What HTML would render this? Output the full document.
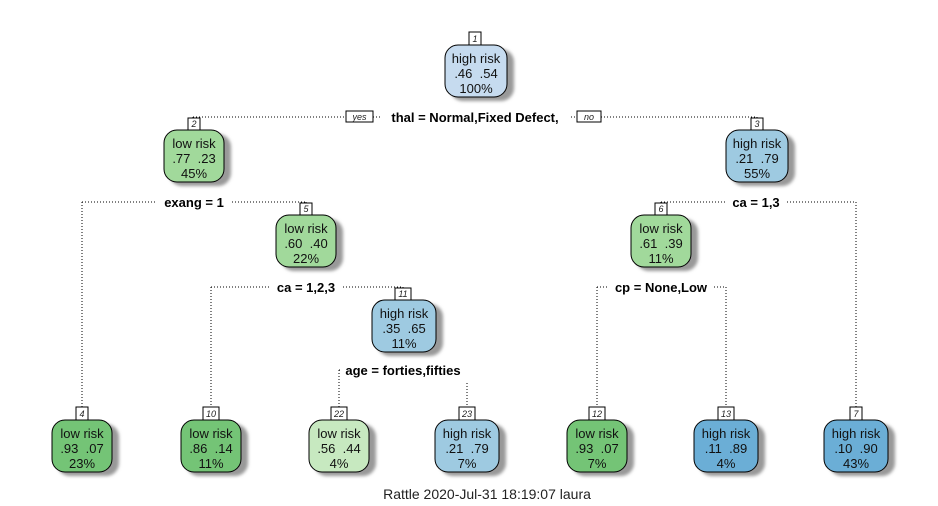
<!DOCTYPE html>
<html><head><meta charset="utf-8"><style>
html,body{margin:0;padding:0;background:#fff;}
svg{display:block;font-family:"Liberation Sans",Arial,sans-serif;}
.n{font-size:13px;fill:#111;text-anchor:middle;white-space:pre;}
.s{font-size:13px;font-weight:bold;fill:#000;text-anchor:middle;}
.lb{font-size:9px;font-style:italic;fill:#222;text-anchor:middle;}
.l{stroke:#000;stroke-width:1;stroke-dasharray:1 2;fill:none;}
</style></head><body>
<svg width="938" height="506" viewBox="0 0 938 506" xmlns="http://www.w3.org/2000/svg">
<defs><filter id="sh" x="-20%" y="-20%" width="150%" height="150%"><feGaussianBlur stdDeviation="1.5"/></filter></defs>
<path class="l" d="M193 117 H757 M193 117 V119 M757 117 V119"/>
<path class="l" d="M82 202 H306 M82 202 V407 M306 202 V204"/>
<path class="l" d="M661 202 H856 M661 202 V204 M856 202 V407"/>
<path class="l" d="M211 287 H403 M211 287 V407 M403 287 V289"/>
<path class="l" d="M597 287 H726 M597 287 V407 M726 287 V407"/>
<path class="l" d="M339 370 H467 M339 370 V407 M467 383 V407"/>
<rect x="380" y="108" width="190" height="18" fill="#fff"/>
<text class="s" x="475" y="122">thal = Normal,Fixed Defect,</text>
<rect x="346" y="111" width="27" height="11" fill="#fff" stroke="#000"/><text class="lb" x="359.5" y="120">yes</text>
<rect x="577" y="111" width="24" height="11" fill="#fff" stroke="#000"/><text class="lb" x="589" y="120">no</text>
<rect x="156" y="194" width="76" height="17" fill="#fff"/><text class="s" x="194" y="207">exang = 1</text>
<rect x="726" y="194" width="60" height="17" fill="#fff"/><text class="s" x="756" y="207">ca = 1,3</text>
<rect x="270" y="279" width="72" height="17" fill="#fff"/><text class="s" x="306" y="292">ca = 1,2,3</text>
<rect x="608" y="279" width="106" height="17" fill="#fff"/><text class="s" x="661" y="292">cp = None,Low</text>
<rect x="340" y="362" width="126" height="17" fill="#fff"/><text class="s" x="403" y="375">age = forties,fifties</text>
<g>
<rect x="450" y="49" width="64" height="52" rx="13" fill="#999" filter="url(#sh)"/>
<rect x="445" y="45" width="62" height="52" rx="13" fill="#c6dbef" stroke="#000"/>
<rect x="469" y="32" width="12" height="13" fill="#fff" stroke="#000"/><text class="lb" x="475" y="42">1</text>
<text class="n" x="476" y="63">high risk</text><text class="n" x="476" y="78">.46&#160;&#160;.54</text><text class="n" x="476" y="93">100%</text>

<rect x="169" y="134" width="62" height="52" rx="13" fill="#999" filter="url(#sh)"/>
<rect x="164" y="130" width="60" height="52" rx="13" fill="#a1d99b" stroke="#000"/>
<rect x="188" y="118" width="12" height="12" fill="#fff" stroke="#000"/><text class="lb" x="194" y="127">2</text>
<text class="n" x="194" y="148">low risk</text><text class="n" x="194" y="163">.77&#160;&#160;.23</text><text class="n" x="194" y="178">45%</text>

<rect x="731" y="134" width="64" height="52" rx="13" fill="#999" filter="url(#sh)"/>
<rect x="726" y="130" width="62" height="52" rx="13" fill="#9ecae1" stroke="#000"/>
<rect x="751" y="118" width="12" height="12" fill="#fff" stroke="#000"/><text class="lb" x="757" y="127">3</text>
<text class="n" x="757" y="148">high risk</text><text class="n" x="757" y="163">.21&#160;&#160;.79</text><text class="n" x="757" y="178">55%</text>

<rect x="281" y="219" width="62" height="52" rx="13" fill="#999" filter="url(#sh)"/>
<rect x="276" y="215" width="60" height="52" rx="13" fill="#a1d99b" stroke="#000"/>
<rect x="300" y="203" width="12" height="12" fill="#fff" stroke="#000"/><text class="lb" x="306" y="212">5</text>
<text class="n" x="306" y="233">low risk</text><text class="n" x="306" y="248">.60&#160;&#160;.40</text><text class="n" x="306" y="263">22%</text>

<rect x="636" y="219" width="62" height="52" rx="13" fill="#999" filter="url(#sh)"/>
<rect x="631" y="215" width="60" height="52" rx="13" fill="#a1d99b" stroke="#000"/>
<rect x="655" y="203" width="12" height="12" fill="#fff" stroke="#000"/><text class="lb" x="661" y="212">6</text>
<text class="n" x="661" y="233">low risk</text><text class="n" x="661" y="248">.61&#160;&#160;.39</text><text class="n" x="661" y="263">11%</text>

<rect x="377" y="304" width="66" height="52" rx="13" fill="#999" filter="url(#sh)"/>
<rect x="372" y="300" width="64" height="52" rx="13" fill="#9ecae1" stroke="#000"/>
<rect x="395" y="288" width="16" height="12" fill="#fff" stroke="#000"/><text class="lb" x="403" y="297">11</text>
<text class="n" x="404" y="318">high risk</text><text class="n" x="404" y="333">.35&#160;&#160;.65</text><text class="n" x="404" y="348">11%</text>

<rect x="57" y="424" width="62" height="52" rx="13" fill="#999" filter="url(#sh)"/>
<rect x="52" y="420" width="60" height="52" rx="13" fill="#74c476" stroke="#000"/>
<rect x="76" y="407" width="12" height="13" fill="#fff" stroke="#000"/><text class="lb" x="82" y="417">4</text>
<text class="n" x="82" y="438">low risk</text><text class="n" x="82" y="453">.93&#160;&#160;.07</text><text class="n" x="82" y="468">23%</text>

<rect x="186" y="424" width="62" height="52" rx="13" fill="#999" filter="url(#sh)"/>
<rect x="181" y="420" width="60" height="52" rx="13" fill="#74c476" stroke="#000"/>
<rect x="203" y="407" width="16" height="13" fill="#fff" stroke="#000"/><text class="lb" x="211" y="417">10</text>
<text class="n" x="211" y="438">low risk</text><text class="n" x="211" y="453">.86&#160;&#160;.14</text><text class="n" x="211" y="468">11%</text>

<rect x="314" y="424" width="62" height="52" rx="13" fill="#999" filter="url(#sh)"/>
<rect x="309" y="420" width="60" height="52" rx="13" fill="#c7e9c0" stroke="#000"/>
<rect x="331" y="407" width="16" height="13" fill="#fff" stroke="#000"/><text class="lb" x="339" y="417">22</text>
<text class="n" x="339" y="438">low risk</text><text class="n" x="339" y="453">.56&#160;&#160;.44</text><text class="n" x="339" y="468">4%</text>

<rect x="440" y="424" width="66" height="52" rx="13" fill="#999" filter="url(#sh)"/>
<rect x="435" y="420" width="64" height="52" rx="13" fill="#9ecae1" stroke="#000"/>
<rect x="459" y="407" width="16" height="13" fill="#fff" stroke="#000"/><text class="lb" x="467" y="417">23</text>
<text class="n" x="467" y="438">high risk</text><text class="n" x="467" y="453">.21&#160;&#160;.79</text><text class="n" x="467" y="468">7%</text>

<rect x="572" y="424" width="62" height="52" rx="13" fill="#999" filter="url(#sh)"/>
<rect x="567" y="420" width="60" height="52" rx="13" fill="#74c476" stroke="#000"/>
<rect x="589" y="407" width="16" height="13" fill="#fff" stroke="#000"/><text class="lb" x="597" y="417">12</text>
<text class="n" x="597" y="438">low risk</text><text class="n" x="597" y="453">.93&#160;&#160;.07</text><text class="n" x="597" y="468">7%</text>

<rect x="699" y="424" width="66" height="52" rx="13" fill="#999" filter="url(#sh)"/>
<rect x="694" y="420" width="64" height="52" rx="13" fill="#6baed6" stroke="#000"/>
<rect x="718" y="407" width="16" height="13" fill="#fff" stroke="#000"/><text class="lb" x="726" y="417">13</text>
<text class="n" x="726" y="438">high risk</text><text class="n" x="726" y="453">.11&#160;&#160;.89</text><text class="n" x="726" y="468">4%</text>

<rect x="829" y="424" width="66" height="52" rx="13" fill="#999" filter="url(#sh)"/>
<rect x="824" y="420" width="64" height="52" rx="13" fill="#6baed6" stroke="#000"/>
<rect x="850" y="407" width="12" height="13" fill="#fff" stroke="#000"/><text class="lb" x="856" y="417">7</text>
<text class="n" x="856" y="438">high risk</text><text class="n" x="856" y="453">.10&#160;&#160;.90</text><text class="n" x="856" y="468">43%</text>
</g>
<text x="487" y="499" font-size="14" text-anchor="middle" fill="#222">Rattle 2020-Jul-31 18:19:07 laura</text>
</svg>
</body></html>
